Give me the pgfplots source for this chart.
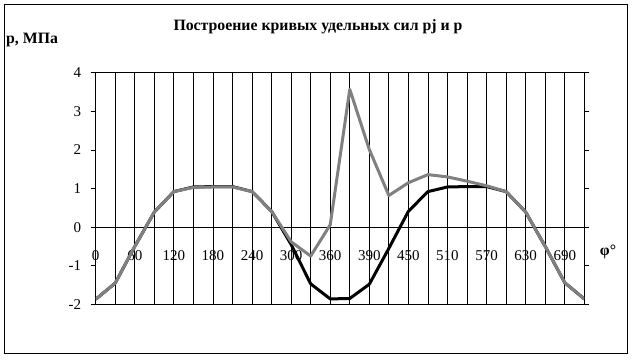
\documentclass[border=0pt]{standalone}
\usepackage{pgfplots}
\pgfplotsset{compat=1.18}
\usepackage{fontspec}
\setmainfont{Liberation Serif}
\definecolor{pgray}{RGB}{128,128,128}
\begin{document}
\begin{tikzpicture}[x=1pt,y=1pt]
\path[fill=white] (0,0) rectangle (632,-360);
\draw[line width=1pt] (4.5,-4.5) rectangle (627,-353);
\node[font=\fontsize{15.8}{17}\selectfont\bfseries] at (318,-27) {Построение кривых удельных сил pj и p};
\node[font=\fontsize{15.8}{17}\selectfont\bfseries, anchor=west, inner sep=0pt] at (6,-40) {p, МПа};
\node[font=\fontsize{15.8}{17}\selectfont\bfseries] at (608,-252) {φ°};
\begin{axis}[
  at={(95.7pt,-304.3pt)}, anchor=south west,
  scale only axis, width=488.6pt, height=231.6pt,
  xmin=0, xmax=25, ymin=-2, ymax=4,
  xtick={0,...,25},
  xticklabels={0,,60,,120,,180,,240,,300,,360,,390,,450,,510,,570,,630,,690,},
  xmajorgrids,
  grid style={black, line width=0.8pt},
  major x tick style={draw=none},
  xticklabel style={anchor=center, yshift=53.6pt},
  ytick={-2,-1,0,1,2,3,4},
  yticklabels={-2,-1,0,1,2,3,4},
  yticklabel style={xshift=-6pt},
  tick align=outside, major tick length=5pt,
  major y tick style={black, line width=0.8pt},
  extra y ticks={0}, extra y tick labels={},
  extra y tick style={ymajorgrids=true, major tick length=0pt},
  axis line style={black, line width=1pt},
  tick label style={font=\fontsize{15}{16}\selectfont},
  every axis plot/.style={line width=3pt, line join=round, mark=none},
]
\addplot[black] coordinates {
(0,-1.87) (1,-1.45) (2,-0.50) (3,0.39) (4,0.92) (5,1.04) (6,1.05) (7,1.05)
(8,0.92) (9,0.41) (10,-0.45) (11,-1.47) (12,-1.86) (13,-1.85) (14,-1.48)
(15,-0.55) (16,0.41) (17,0.92) (18,1.04) (19,1.05) (20,1.05) (21,0.92)
(22,0.39) (23,-0.50) (24,-1.44) (25,-1.86)};
\addplot[pgray] coordinates {
(0,-1.87) (1,-1.45) (2,-0.50) (3,0.39) (4,0.92) (5,1.03) (6,1.04) (7,1.04)
(8,0.92) (9,0.41) (10,-0.38) (11,-0.75) (12,0.06) (13,3.57) (14,2.01)
(15,0.82) (16,1.15) (17,1.36) (18,1.30) (19,1.19) (20,1.07) (21,0.92)
(22,0.39) (23,-0.50) (24,-1.44) (25,-1.86)};
\end{axis}
\end{tikzpicture}
\end{document}
